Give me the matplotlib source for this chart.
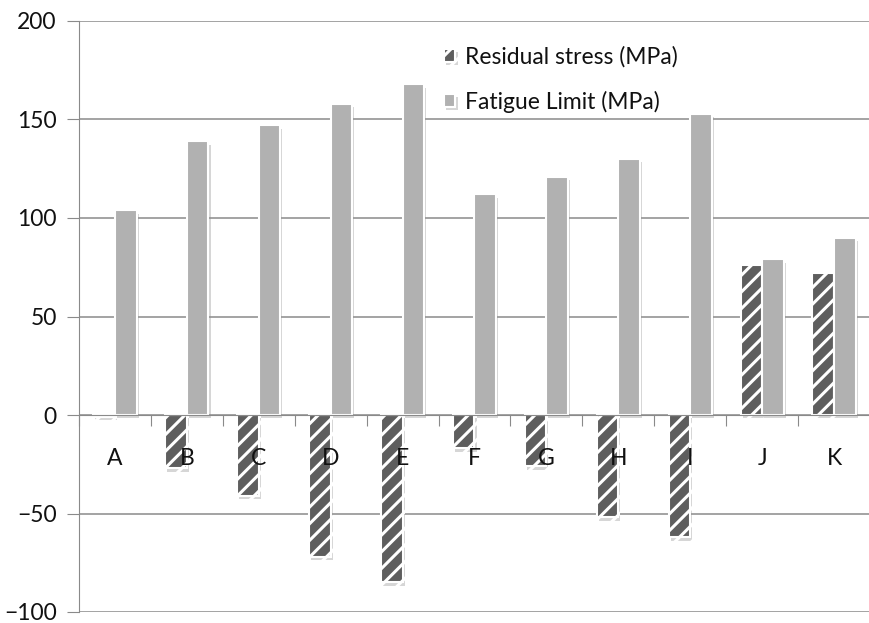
import matplotlib
matplotlib.use('Agg')
import matplotlib.pyplot as plt
import matplotlib.patheffects as pe
from matplotlib.patches import Rectangle
import numpy as np

categories = ['A', 'B', 'C', 'D', 'E', 'F', 'G', 'H', 'I', 'J', 'K']
residual = [-1, -27, -41, -72, -85, -17, -26, -52, -62, 76, 72]
fatigue = [104, 139, 147, 158, 168, 112, 121, 130, 153, 79, 90]
yticks = [-100, -50, 0, 50, 100, 150, 200]

plt.rcParams['font.family'] = ['Lato', 'DejaVu Sans']
plt.rcParams['hatch.linewidth'] = 2.2

fig = plt.figure(figsize=(8.7, 6.23), dpi=100)
ax = fig.add_axes([79/870, 1 - 612/623, 1 - 79/870, (612 - 21)/623])

x = np.arange(len(categories))
w = 0.30
shadow = [pe.SimplePatchShadow(offset=(1.5, -2.5), shadow_rgbFace='0.55', alpha=0.35), pe.Normal()]

res_bars = ax.bar(x - w/2, residual, w, color='#5e5e5e', edgecolor='white', linewidth=1.5,
                  hatch='//', label='Residual stress (MPa)', zorder=3)
fat_bars = ax.bar(x + w/2, fatigue, w, color='#b1b1b1', edgecolor='white', linewidth=1.5,
                  label='Fatigue Limit (MPa)', zorder=3)
for b in list(res_bars) + list(fat_bars):
    b.set_path_effects(shadow)

ax.set_xlim(-0.5, -0.5 + 791/73)
ax.set_ylim(-100, 200)
ax.set_yticks(yticks)
ax.yaxis.grid(True, color='#8a8a8a', linewidth=1.1, zorder=0)
ax.set_axisbelow(True)

for s in ['top', 'right']:
    ax.spines[s].set_visible(False)
ax.spines['left'].set_color('#8a8a8a')
ax.spines['bottom'].set_position(('data', 0))
ax.spines['bottom'].set_color('#8a8a8a')
ax.spines['bottom'].set_zorder(4)

ax.set_xticks(np.arange(len(categories) + 1) - 0.5)
ax.set_xticklabels([])
ax.tick_params(axis='x', direction='out', length=8, color='#8a8a8a')
ax.tick_params(axis='y', direction='out', length=9, color='#8a8a8a', pad=7,
               labelsize=16.5, labelcolor='#111111')

for i, c in enumerate(categories):
    ax.text(i, -22, c, ha='center', va='center', fontsize=16.5, color='#111111', zorder=5)

# white gap in the 150 gridline behind the legend
ax.add_patch(Rectangle((375/870, 113/623), 202/870, 14/623, transform=fig.transFigure,
                       facecolor='white', edgecolor='none', zorder=1))

leg = ax.legend(loc='upper left', bbox_to_anchor=(444/870, 1 - 46/623),
                bbox_transform=fig.transFigure, frameon=False, fontsize=16.5,
                handlelength=0.5, handleheight=0.5, handletextpad=0.4,
                labelspacing=1.0, borderpad=0, borderaxespad=0)
for t in leg.get_texts():
    t.set_color('#111111')

fig.savefig('out.png', dpi=100)
